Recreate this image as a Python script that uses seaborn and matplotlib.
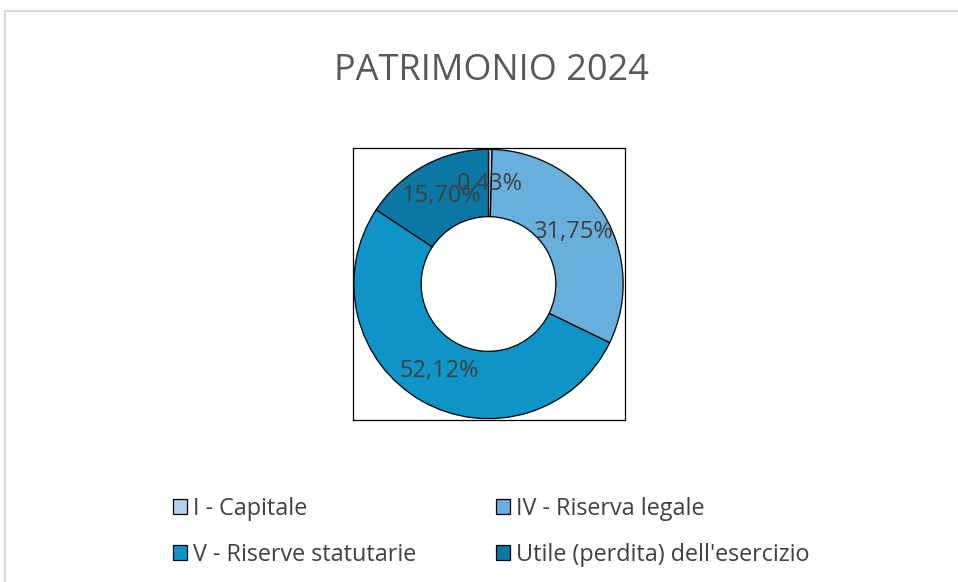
import matplotlib
matplotlib.use("Agg")
import matplotlib.pyplot as plt
import seaborn as sns
from matplotlib.patches import Rectangle

# dati del grafico
voci = ["I - Capitale", "IV - Riserva legale", "V - Riserve statutarie",
        "Utile (perdita) dell'esercizio"]
quote = [0.43, 31.75, 52.12, 15.70]
colori = ["#b3d3ec", "#68afdc", "#0e94c7", "#0b77a4"]
titolo = "PATRIMONIO 2024"

sns.set_theme(style="white")
plt.rcParams["font.family"] = ["Open Sans", "DejaVu Sans"]

fig = plt.figure(figsize=(9.58, 5.82), dpi=100)
fig.patch.set_facecolor("white")

# cornice grigia del grafico
fig.patches.append(Rectangle((5 / 958, -0.1), 1.1, 1 - 11 / 582 + 0.1,
                             transform=fig.transFigure, fill=False,
                             edgecolor="#d9d9d9", linewidth=1.5))

ax = fig.add_axes([352 / 958, 1 - 420 / 582, 273 / 958, 272 / 582])
palette = sns.color_palette(colori)
wedges, testi, pct = ax.pie(
    quote, colors=palette, startangle=90, counterclock=False,
    radius=1, frame=True, pctdistance=0.74,
    autopct=lambda p: f"{p:.2f}%".replace(".", ","),
    wedgeprops=dict(width=0.5, edgecolor="black", linewidth=0.9),
    textprops=dict(color="#404040", fontsize=17))
ax.set_xlim(-1.01, 1.01)
ax.set_ylim(-1.01, 1.01)
ax.set_xticks([])
ax.set_yticks([])
for s in ax.spines.values():
    s.set_visible(True)
    s.set_color("black")
    s.set_linewidth(0.9)

fig.text(0.513, 1 - 71 / 582, titolo, ha="center", va="center",
         fontsize=26, color="#595959")

# legenda in ordine per righe (matplotlib riempie per colonne)
ordine = [0, 2, 1, 3]
fig.legend([wedges[i] for i in ordine], [voci[i] for i in ordine],
           ncol=2, loc="center", bbox_to_anchor=(0.513, 1 - 532 / 582),
           frameon=False, fontsize=16.8, labelcolor="#404040",
           handlelength=0.6, handleheight=0.6, handletextpad=0.27,
           columnspacing=3.4, labelspacing=0.95)

fig.savefig("out.png", dpi=100)
